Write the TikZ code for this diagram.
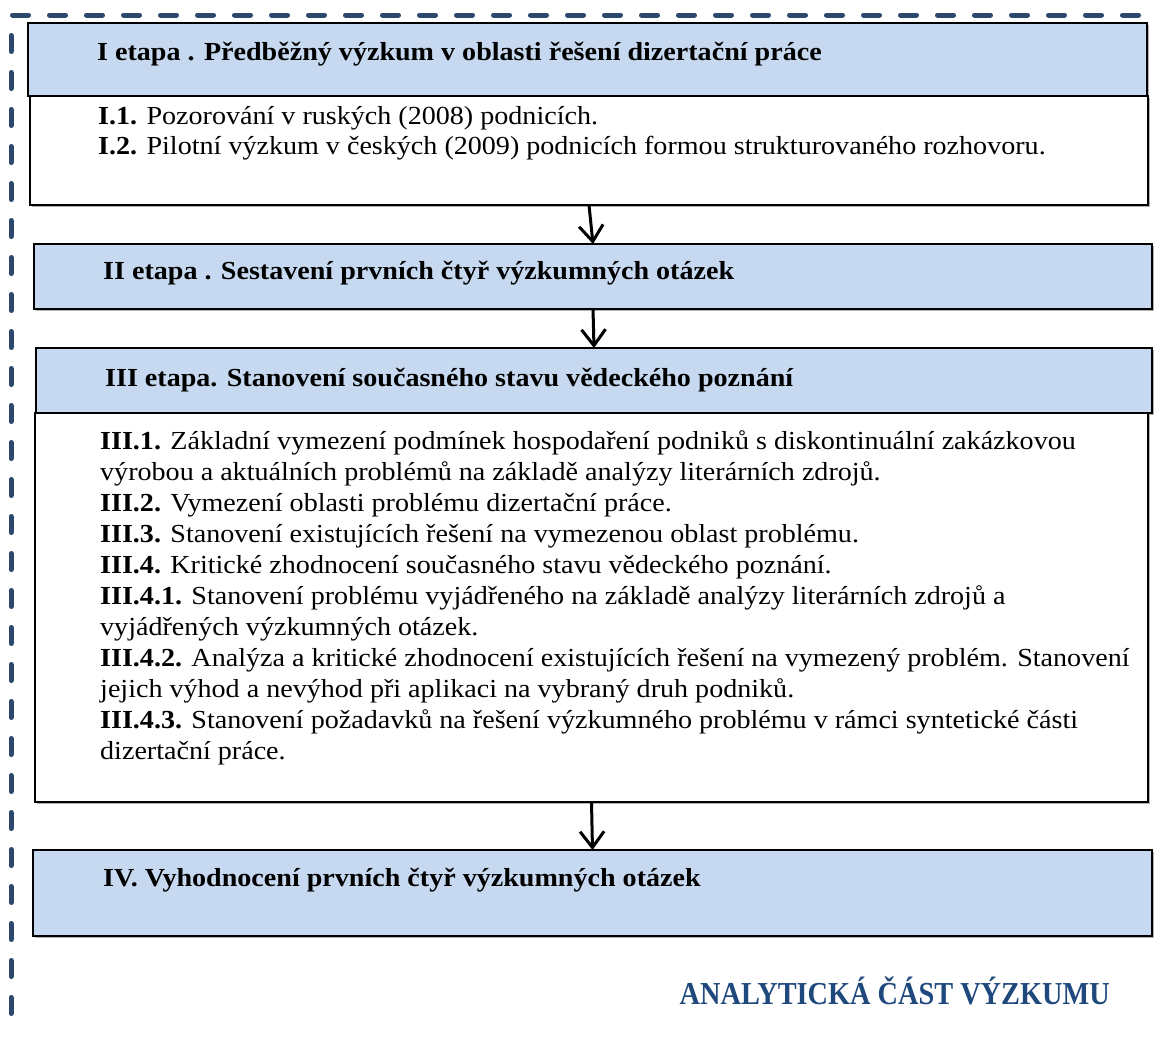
\documentclass[tikz,border=0pt]{standalone}
\usepackage{fontspec}
\setmainfont{Liberation Serif}[FakeStretch=1.08]
\newfontfamily\capfont{Liberation Serif}[FakeStretch=0.885]
\usetikzlibrary{arrows.meta,shadows}
\definecolor{hdrblue}{RGB}{198,217,240}
\definecolor{framedash}{RGB}{44,72,108}
\definecolor{titleblue}{RGB}{31,73,125}
\begin{document}
\begin{tikzpicture}[x=1pt,y=-1pt,
  panel/.style={draw=black, line width=2.2pt, inner sep=0pt, outer sep=0pt, anchor=north west,
    drop shadow={shadow xshift=1.5pt, shadow yshift=-1.5pt, fill=black!30, opacity=1}},
  hdr/.style={panel, fill=hdrblue},
  bodybox/.style={panel, fill=white},
  htext/.style={anchor=base west, inner sep=0pt, font=\fontsize{26}{31}\selectfont\bfseries},
  btext/.style={anchor=base west, inner sep=0pt, font=\fontsize{26}{31}\selectfont},
  flow/.style={line width=3pt, -{Straight Barb[length=16pt, width=24pt, line width=3pt]}},
  frame/.style={draw=framedash, line width=5pt, line cap=round, dash pattern=on 16pt off 21pt}]

\useasboundingbox (0,0) rectangle (1162,1037);

% dashed frame along the top and the left side
\draw[frame] (12.5,15) -- (1152,15);
\draw[frame] (11,35.5) -- (11,1026);

% stage I
\node[hdr, minimum width=1119pt, minimum height=73pt] (h1) at (28,23) {};
\node[bodybox, minimum width=1118pt, minimum height=109pt] (b1) at (30,96) {};
\node[htext] (t1) at (97,60) {I etapa . Předběžný výzkum v oblasti řešení dizertační práce};
\node[btext] (l11) at (98,124) {\textbf{I.1.} Pozorování v ruských (2008) podnicích.};
\node[btext] (l12) at (98,154) {\textbf{I.2.} Pilotní výzkum v českých (2009) podnicích formou strukturovaného rozhovoru.};

% stage II
\node[hdr, minimum width=1118pt, minimum height=65pt] (h2) at (34,244) {};
\node[htext] (t2) at (103,279) {II etapa . Sestavení prvních čtyř výzkumných otázek};

% stage III
\node[hdr, minimum width=1116pt, minimum height=65pt] (h3) at (36,348) {};
\node[bodybox, minimum width=1113pt, minimum height=389pt] (b3) at (35,413) {};
\node[htext] (t3) at (105,386) {III etapa. Stanovení současného stavu vědeckého poznání};
\node[btext] (l31) at (100,449) {\textbf{III.1.} Základní vymezení podmínek hospodaření podniků s diskontinuální zakázkovou};
\node[btext] (l32) at (100,480) {výrobou a aktuálních problémů na základě analýzy literárních zdrojů.};
\node[btext] (l33) at (100,511) {\textbf{III.2.} Vymezení oblasti problému dizertační práce.};
\node[btext] (l34) at (100,542) {\textbf{III.3.} Stanovení existujících řešení na vymezenou oblast problému.};
\node[btext] (l35) at (100,573) {\textbf{III.4.} Kritické zhodnocení současného stavu vědeckého poznání.};
\node[btext] (l36) at (100,604) {\textbf{III.4.1.} Stanovení problému vyjádřeného na základě analýzy literárních zdrojů a};
\node[btext] (l37) at (100,635) {vyjádřených výzkumných otázek.};
\node[btext] (l38) at (100,666) {\textbf{III.4.2.} Analýza a kritické zhodnocení existujících řešení na vymezený problém. Stanovení};
\node[btext] (l39) at (100,697) {jejich výhod a nevýhod při aplikaci na vybraný druh podniků.};
\node[btext] (l310) at (100,728) {\textbf{III.4.3.} Stanovení požadavků na řešení výzkumného problému v rámci syntetické části};
\node[btext] (l311) at (100,759) {dizertační práce.};

% stage IV
\node[hdr, minimum width=1119pt, minimum height=86pt] (h4) at (33,850) {};
\node[htext] (t4) at (103,886) {IV. Vyhodnocení prvních čtyř výzkumných otázek};

% flow between the stages
\draw[flow] (b1.south) -- (h2.north);
\draw[flow] (h2.south) -- (h3.north);
\draw[flow] (b3.south) -- (h4.north);

% caption of the whole block
\node[anchor=base east, inner sep=0pt, font=\capfont\fontsize{32}{38}\selectfont\bfseries, text=titleblue] (cap) at (1110,1004) {ANALYTICKÁ ČÁST VÝZKUMU};
\end{tikzpicture}
\end{document}
